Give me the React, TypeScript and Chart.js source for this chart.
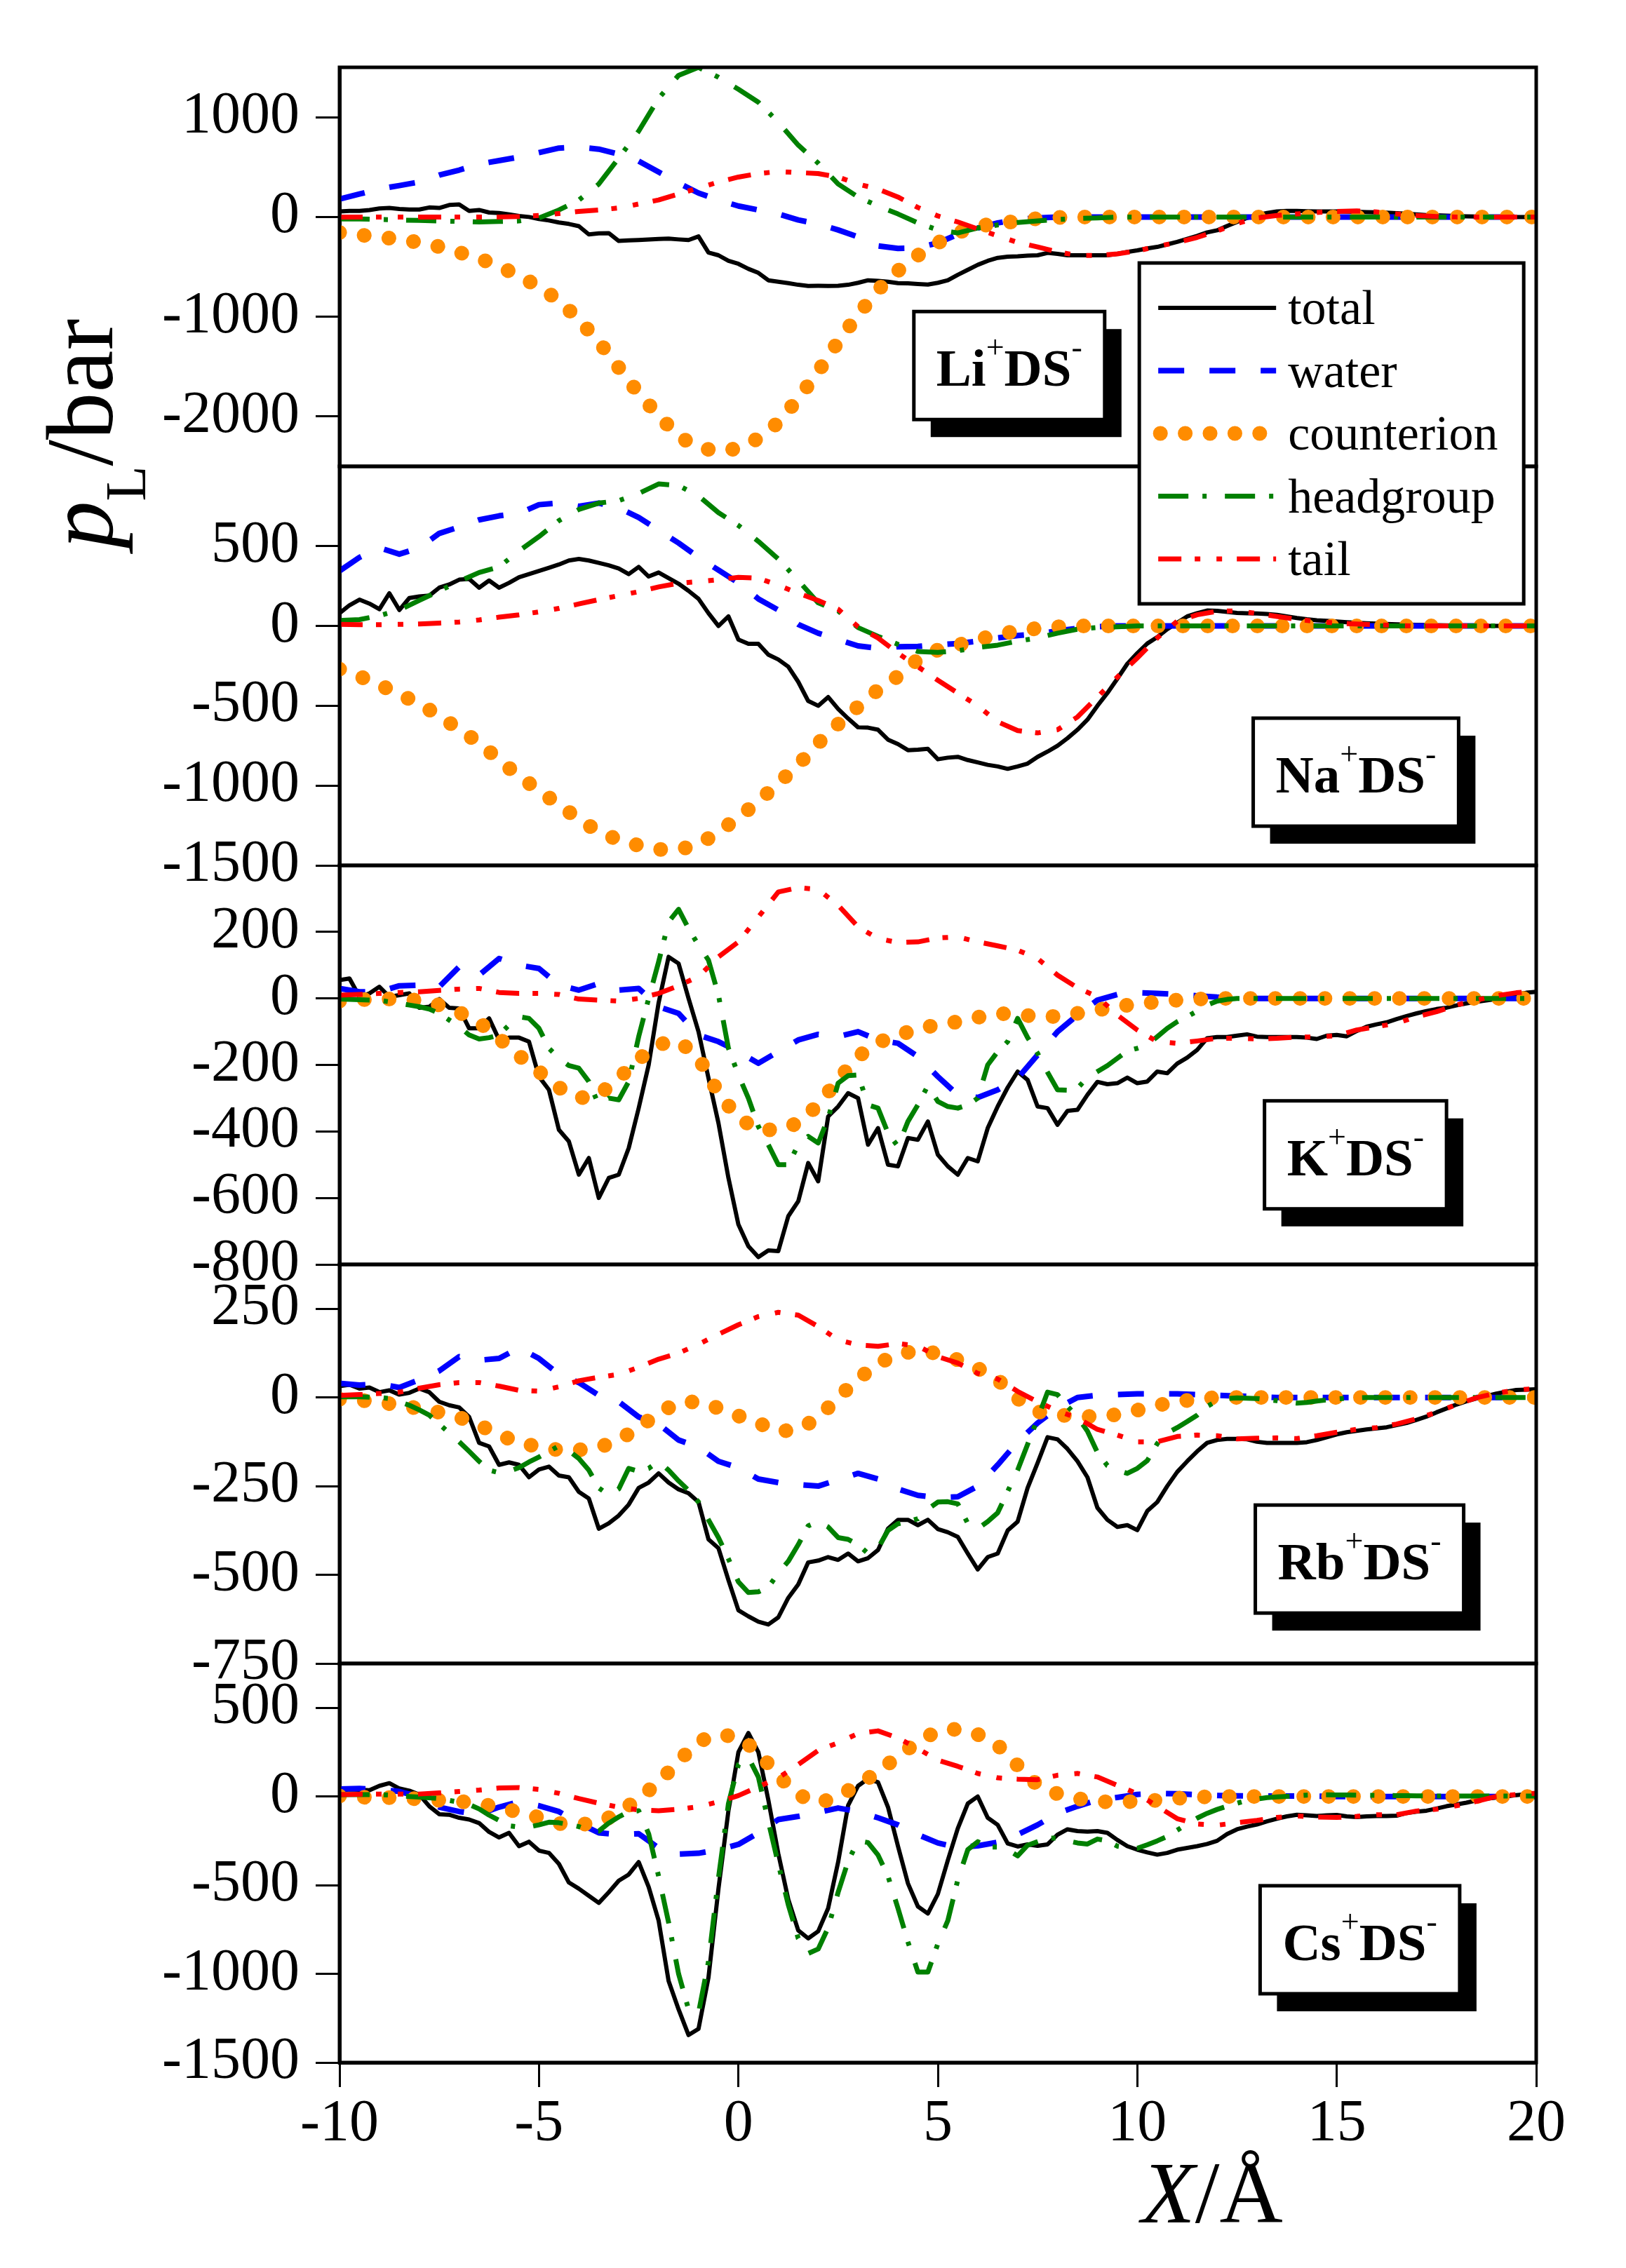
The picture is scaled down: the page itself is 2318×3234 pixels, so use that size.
import React, { useEffect, useRef } from 'react';
import { Chart, registerables } from 'chart.js';

Chart.register(...registerables);

// sampling grids along X (Å)
const X_COARSE = Array.from({ length: 61 }, (_, i) => -10 + i * 0.5);
const X_FINE = Array.from({ length: 121 }, (_, i) => -10 + i * 0.25);
const X_TICKS = [-10, -5, 0, 5, 10, 15, 20];

const SERIES = ['total', 'water', 'counterion', 'headgroup', 'tail'];

// ---- Li+DS- ----
const LI_TOTAL = [
  55, 60, 60, 70, 85, 90, 80, 75, 75, 95,
  90, 120, 125, 60, 70, 45, 40, 25, 10, 0,
  -20, -35, -55, -70, -92, -175, -165, -162, -240, -235,
  -231, -225, -220, -217, -225, -231, -195, -357, -384, -440,
  -470, -520, -560, -635, -650, -663, -680, -691, -690, -691,
  -690, -680, -660, -635, -640, -650, -663, -665, -672, -677,
  -660, -635, -580, -530, -480, -440, -410, -398, -395, -388,
  -384, -360, -370, -384, -384, -384, -384, -384, -370, -350,
  -335, -315, -300, -275, -250, -220, -190, -155, -134, -90,
  -50, -10, 19, 40, 55, 61, 60, 58, 56, 56,
  55, 53, 51, 49, 47, 43, 38, 32, 26, 19,
  16, 13, 10, 7, 5, 3, 0, 0, 0, 0,
  0,
];
const LI_WATER = [
  180, 230, 280, 315, 350, 420, 470, 530, 565, 600,
  645, 690, 700, 680, 630, 560, 450, 340, 240, 170,
  110, 70, 30, -30, -70, -130, -200, -290, -315, -310,
  -260, -175, -110, -60, -25, -10, 0, 0, 0, 0,
  0, 0, 0, 0, 0, 0, 0, 0, 0, 0,
  0, 0, 0, 0, 0, 0, 0, 0, 0, 0,
  0,
];
const LI_COUNTERION = [
  -155, -180, -200, -225, -255, -298, -355, -415, -495, -590,
  -700, -836, -1030, -1250, -1510, -1770, -1990, -2200, -2310, -2350,
  -2320, -2220, -2060, -1820, -1550, -1250, -980, -730, -540, -385,
  -260, -155, -95, -60, -45, -15, -5, 0, 0, 0,
  0, 0, 0, 0, 0, 0, 0, 0, 0, 0,
  0, 0, 0, 0, 0, 0, 0, 0, 0, 0,
  0,
];
const LI_HEADGROUP = [
  -20, -20, -25, -30, -35, -40, -45, -50, -45, -40,
  -10, 70, 170, 330, 590, 860, 1190, 1420, 1500, 1400,
  1280, 1150, 950, 720, 540, 330, 200, 110, 30, -60,
  -130, -160, -110, -80, -55, -40, -25, -15, -10, 0,
  0, 0, 0, 0, 0, 0, 0, 0, 0, 0,
  0, 0, 0, 0, 0, 0, 0, 0, 0, 0,
  0,
];
const LI_TAIL = [
  0, 0, 0, 0, 0, 0, 0, 0, 0, 5,
  15, 35, 55, 70, 90, 130, 170, 230, 290, 350,
  400, 435, 455, 445, 435, 400, 330, 280, 200, 95,
  10, -50, -120, -190, -255, -300, -350, -385, -385, -370,
  -340, -295, -255, -205, -140, -65, -10, 15, 30, 45,
  55, 60, 50, 30, 15, 5, 0, 0, 0, 0,
  0,
];
const LI_RANGE = [-2500, 1500];
const LI_TICKS = [-2000, -1000, 0, 1000];

// ---- Na+DS- ----
const NA_TOTAL = [
  80, 130, 165, 140, 105, 205, 100, 175, 185, 190,
  240, 260, 290, 295, 240, 285, 240, 270, 305, 325,
  345, 365, 385, 410, 420, 410, 395, 380, 360, 325,
  370, 310, 335, 300, 265, 220, 170, 80, 0, 60,
  -85, -112, -112, -180, -210, -255, -350, -470, -500, -445,
  -520, -580, -635, -637, -650, -712, -740, -778, -775, -770,
  -835, -825, -820, -840, -855, -870, -880, -895, -880, -862,
  -820, -787, -750, -703, -650, -587, -500, -420, -330, -237,
  -170, -110, -70, -20, 20, 60, 80, 97, 95, 88,
  82, 80, 78, 75, 70, 60, 50, 42, 36, 32,
  28, 24, 20, 17, 15, 12, 10, 8, 7, 6,
  5, 4, 3, 2, 1, 0, 0, 0, 0, 0,
  0,
];
const NA_WATER = [
  345, 430, 490, 450, 490, 580, 620, 665, 690, 705,
  760, 770, 750, 770, 740, 680, 600, 520, 430, 350,
  270, 170, 100, 10, -45, -85, -125, -140, -130, -128,
  -118, -110, -95, -75, -60, -50, -30, -15, -5, 0,
  0, 0, 0, 0, 0, 0, 0, 0, 0, 0,
  0, 0, 0, 0, 0, 0, 0, 0, 0, 0,
  0,
];
const NA_COUNTERION = [
  -270, -315, -370, -425, -490, -560, -650, -730, -840, -940,
  -1030, -1120, -1210, -1290, -1340, -1375, -1400, -1400, -1370, -1290,
  -1200, -1100, -985, -870, -735, -615, -505, -400, -315, -210,
  -150, -120, -85, -55, -30, -15, -5, 0, 0, 0,
  0, 0, 0, 0, 0, 0, 0, 0, 0, 0,
  0, 0, 0, 0, 0, 0, 0, 0, 0, 0,
  0,
];
const NA_HEADGROUP = [
  35, 40, 65, 100, 160, 220, 280, 335, 370, 470,
  560, 660, 730, 770, 785, 830, 890, 880, 815, 710,
  630, 530, 420, 285, 145, 95, -10, -65, -115, -160,
  -165, -155, -135, -120, -95, -75, -45, -20, -10, -5,
  0, 0, 0, 0, 0, 0, 0, 0, 0, 0,
  0, 0, 0, 0, 0, 0, 0, 0, 0, 0,
  0,
];
const NA_TAIL = [
  10, 8, 8, 10, 13, 18, 25, 38, 55, 70,
  88, 110, 138, 165, 190, 215, 245, 268, 278, 290,
  305, 300, 255, 205, 160, 105, -5, -75, -170, -255,
  -340, -420, -500, -600, -655, -670, -650, -570, -445, -320,
  -200, -75, 30, 70, 92, 95, 78, 60, 42, 28,
  18, 12, 7, 3, 0, 0, 0, 0, 0, 0,
  0,
];
const NA_RANGE = [-1500, 1000];
const NA_TICKS = [-1500, -1000, -500, 0, 500];

// ---- K+DS- ----
const K_TOTAL = [
  55, 60, 5, 15, 35, 5, 10, 15, -28, -25,
  -2, -28, -30, -90, -90, -60, -124, -118, -118, -130,
  -235, -275, -395, -430, -530, -480, -600, -540, -530, -450,
  -330, -200, -13, 125, 105, 0, -100, -240, -375, -540,
  -680, -745, -778, -758, -760, -655, -610, -495, -550, -355,
  -325, -285, -300, -440, -390, -500, -505, -420, -425, -370,
  -470, -505, -530, -480, -490, -390, -325, -268, -220, -245,
  -325, -330, -380, -338, -335, -290, -251, -258, -255, -238,
  -255, -250, -220, -225, -196, -178, -155, -120, -116, -116,
  -112, -108, -115, -116, -116, -116, -116, -118, -122, -112,
  -110, -114, -98, -85, -78, -72, -62, -53, -45, -38,
  -32, -28, -21, -15, -10, -6, -2, 5, 12, 17,
  20,
];
const K_WATER = [
  30, 20, 20, 38, 40, 35, 95, 70, 120, 100,
  90, 40, 25, 45, 25, 30, -25, -45, -110, -130,
  -160, -195, -160, -125, -108, -115, -100, -125, -135, -175,
  -235, -290, -298, -275, -240, -170, -100, -50, -5, 12,
  17, 15, 12, 8, 4, 2, 0, 0, 0, 0,
  0, 0, 0, 0, 0, 0, 0, 0, 0, 0,
  0,
];
const K_COUNTERION = [
  -8, -4, -2, -2, -6, -20, -42, -72, -120, -172,
  -220, -268, -300, -290, -240, -183, -138, -128, -178, -285,
  -360, -395, -395, -375, -320, -245, -175, -132, -112, -90,
  -80, -70, -57, -45, -48, -55, -54, -45, -35, -24,
  -17, -10, -5, -2, 0, 0, 0, 0, 0, 0,
  0, 0, 0, 0, 0, 0, 0, 0, 0, 0,
  0,
];
const K_HEADGROUP = [
  -2, -3, -4, -5, -6, -10, -15, -20, -25, -32,
  -45, -65, -85, -110, -122, -118, -110, -80, -55, -60,
  -90, -150, -180, -202, -210, -250, -320, -300, -305, -250,
  -115, 0, 110, 230, 268, 210, 160, 115, 10, -150,
  -230, -300, -385, -440, -500, -500, -440, -415, -435, -360,
  -255, -232, -230, -320, -330, -405, -445, -370, -320, -262,
  -310, -325, -330, -320, -300, -200, -160, -130, -60, -118,
  -165, -222, -275, -276, -270, -238, -220, -202, -180, -158,
  -150, -140, -115, -90, -70, -55, -38, -20, -8, -3,
  0, 0, 0, 0, 0, 0, 0, 0, 0, 0,
  0, 0, 0, 0, 0, 0, 0, 0, 0, 0,
  0, 0, 0, 0, 0, 0, 0, 0, 0, 0,
  0,
];
const K_TAIL = [
  10, 12, 15, 18, 20, 24, 28, 30, 18, 15,
  15, 12, -2, -5, -8, 0, 15, 38, 66, 125,
  170, 245, 320, 333, 328, 280, 215, 180, 168, 170,
  182, 185, 170, 158, 145, 120, 70, 32, 5, -50,
  -95, -130, -135, -128, -120, -120, -122, -120, -116, -116,
  -112, -95, -85, -75, -55, -40, -20, -5, 8, 17,
  22,
];
const K_RANGE = [-800, 400];
const K_TICKS = [-800, -600, -400, -200, 0, 200];

// ---- Rb+DS- ----
const RB_TOTAL = [
  32, 36, 25, 28, 15, 20, 8, 13, 25, 15,
  -12, -22, -28, -55, -128, -138, -190, -183, -190, -225,
  -203, -195, -220, -225, -266, -285, -370, -355, -333, -302,
  -255, -240, -214, -240, -259, -270, -295, -400, -425, -515,
  -600, -617, -632, -640, -620, -565, -527, -465, -460, -450,
  -458, -440, -462, -453, -430, -370, -345, -345, -360, -345,
  -371, -380, -393, -440, -485, -450, -440, -375, -350, -255,
  -185, -112, -118, -145, -180, -225, -311, -345, -365, -360,
  -374, -320, -295, -250, -210, -180, -152, -128, -120, -117,
  -117, -118, -125, -128, -128, -128, -128, -126, -120, -112,
  -104, -98, -94, -90, -87, -84, -78, -72, -63, -54,
  -42, -31, -20, -11, -3, 4, 11, 16, 21, 22,
  23,
];
const RB_WATER = [
  40, 35, 38, 28, 50, 75, 115, 105, 110, 140,
  110, 65, 42, 6, -12, -55, -75, -120, -140, -180,
  -198, -230, -240, -246, -250, -232, -214, -230, -258, -276,
  -282, -280, -250, -190, -125, -72, -30, 0, 6, 8,
  10, 10, 10, 8, 6, 4, 2, 0, 0, 0,
  0, 0, 0, 0, 0, 0, 0, 0, 0, 0,
  0,
];
const RB_COUNTERION = [
  -5, -8, -13, -22, -31, -42, -56, -78, -105, -128,
  -139, -148, -148, -141, -120, -85, -44, -14, -12, -30,
  -52, -72, -96, -90, -58, 0, 52, 96, 122, 132,
  124, 106, 82, 50, -3, -40, -50, -52, -55, -48,
  -36, -22, -12, -5, 0, 0, 0, 0, 0, 0,
  0, 0, 0, 0, 0, 0, 0, 0, 0, 0,
  0,
];
const RB_HEADGROUP = [
  2, 2, 2, 1, 0, -3, -12, -22, -35, -50,
  -75, -100, -125, -152, -180, -205, -212, -208, -198, -182,
  -168, -152, -137, -150, -172, -205, -255, -275, -258, -200,
  -208, -200, -180, -205, -235, -262, -295, -345, -395, -455,
  -520, -550, -548, -535, -495, -462, -415, -362, -350, -365,
  -395, -400, -415, -440, -425, -375, -356, -350, -342, -315,
  -295, -294, -300, -355, -370, -350, -325, -265, -205, -132,
  -60, 15, 8, -25, -55, -95, -155, -192, -205, -214,
  -200, -178, -130, -100, -85, -68, -50, -25, -10, -3,
  -1, -2, -3, -6, -9, -13, -16, -14, -10, -7,
  -4, -2, -1, 0, 0, 0, 0, 0, 0, 0,
  0, 0, 0, 0, 0, 0, 0, 0, 0, 0,
  0,
];
const RB_TAIL = [
  6, 8, 11, 15, 26, 36, 42, 42, 32, 20,
  18, 30, 47, 57, 65, 85, 108, 125, 150, 178,
  205, 228, 240, 232, 200, 162, 148, 144, 152, 145,
  115, 97, 68, 52, 17, -12, -38, -58, -90, -106,
  -125, -125, -110, -106, -108, -117, -115, -114, -116, -108,
  -98, -90, -85, -75, -60, -42, -20, -1, 12, 21,
  25,
];
const RB_RANGE = [-750, 375];
const RB_TICKS = [-750, -500, -250, 0, 250];

// ---- Cs+DS- ----
const CS_TOTAL = [
  33, 40, 38, 35, 60, 75, 45, 33, 10, -55,
  -100, -103, -120, -130, -150, -200, -231, -205, -280, -255,
  -305, -318, -380, -485, -520, -560, -600, -540, -475, -440,
  -370, -510, -700, -1040, -1200, -1345, -1310, -1020, -520, -80,
  250, 358, 250, -20, -322, -580, -755, -800, -760, -630,
  -370, -50, 60, 100, 80, -60, -280, -490, -620, -660,
  -550, -360, -180, -40, 0, -120, -160, -265, -282, -270,
  -278, -270, -215, -185, -195, -198, -195, -205, -245, -280,
  -300, -315, -328, -318, -300, -290, -280, -268, -250, -212,
  -185, -170, -158, -140, -125, -112, -103, -106, -110, -106,
  -104, -112, -116, -112, -110, -110, -108, -93, -85, -80,
  -68, -55, -45, -35, -22, -12, -6, 0, 8, 13,
  18,
];
const CS_WATER = [
  42, 45, 40, 28, 0, -60, -85, -100, -60, -30,
  -52, -85, -150, -205, -215, -210, -290, -325, -320, -300,
  -270, -205, -130, -112, -90, -65, -85, -120, -160, -215,
  -262, -288, -278, -258, -215, -160, -95, -55, -20, -5,
  12, 18, 15, 10, 6, 4, 3, 3, 3, 2,
  0, 0, 0, 0, 0, 0, 0, 0, 0, 0,
  0,
];
const CS_COUNTERION = [
  3, -4, -5, -8, -14, -21, -27, -40, -62, -88,
  -118, -152, -160, -145, -95, -10, 78, 200, 310, 350,
  335, 250, 115, 10, -38, 0, 65, 140, 225, 310,
  370, 380, 350, 290, 175, 62, 15, -12, -28, -32,
  -27, -21, -10, -3, 0, 0, 0, 0, 0, 0,
  0, 0, 0, 0, 0, 0, 0, 0, 0, 0,
  0,
];
const CS_HEADGROUP = [
  10, 11, 11, 11, 11, 8, 4, 0, -3, -7,
  -12, -22, -32, -45, -70, -105, -135, -165, -172, -172,
  -160, -145, -148, -158, -170, -190, -195, -150, -115, -85,
  -80, -210, -450, -710, -1000, -1200, -1220, -930, -460, -40,
  180, 220, 110, -141, -380, -610, -800, -885, -860, -740,
  -540, -365, -250, -260, -330, -450, -630, -820, -990, -990,
  -830, -700, -470, -300, -255, -285, -285, -300, -335, -275,
  -255, -235, -235, -250, -262, -268, -240, -250, -280, -288,
  -292, -272, -250, -225, -190, -155, -122, -95, -73, -55,
  -38, -22, -14, -6, -2, 1, 4, 8, 10, 10,
  9, 9, 8, 7, 6, 6, 5, 5, 4, 4,
  3, 3, 3, 3, 3, 3, 3, 3, 3, 3,
  3,
];
const CS_TAIL = [
  11, 13, 14, 14, 14, 20, 28, 36, 48, 50,
  40, 18, -12, -38, -60, -76, -80, -72, -58, -30,
  5, 55, 105, 180, 260, 303, 355, 370, 330, 270,
  205, 170, 130, 105, 98, 95, 120, 130, 110, 63,
  15, -55, -125, -155, -162, -148, -135, -118, -110, -116,
  -118, -112, -103, -103, -82, -72, -52, -27, 0, 11,
  18,
];
const CS_RANGE = [-1500, 750];
const CS_TICKS = [-1500, -1000, -500, 0, 500];

const PANELS = [
  { ion: 'Li', range: LI_RANGE, ticks: LI_TICKS, series: [LI_TOTAL, LI_WATER, LI_COUNTERION, LI_HEADGROUP, LI_TAIL] },
  { ion: 'Na', range: NA_RANGE, ticks: NA_TICKS, series: [NA_TOTAL, NA_WATER, NA_COUNTERION, NA_HEADGROUP, NA_TAIL] },
  { ion: 'K', range: K_RANGE, ticks: K_TICKS, series: [K_TOTAL, K_WATER, K_COUNTERION, K_HEADGROUP, K_TAIL] },
  { ion: 'Rb', range: RB_RANGE, ticks: RB_TICKS, series: [RB_TOTAL, RB_WATER, RB_COUNTERION, RB_HEADGROUP, RB_TAIL] },
  { ion: 'Cs', range: CS_RANGE, ticks: CS_TICKS, series: [CS_TOTAL, CS_WATER, CS_COUNTERION, CS_HEADGROUP, CS_TAIL] },
];

// ---- styles / layout ----
const W = 2318;
const H = 3234;
const PLOT_LEFT = 484;
const PLOT_RIGHT = 2190;
const PLOT_TOP = 96;
const PLOT_BOTTOM = 2941;
const SERIF = '"Liberation Serif", "DejaVu Serif", serif';

const LINE_STYLES: Record<string, { color: string; width: number; dash: number[]; cap: CanvasLineCap }> = {
  total: { color: '#000000', width: 6, dash: [], cap: 'butt' },
  water: { color: '#0000ff', width: 8, dash: [37, 36], cap: 'butt' },
  counterion: { color: '#ff8c00', width: 21, dash: [0.1, 35.3], cap: 'round' },
  headgroup: { color: '#008000', width: 7, dash: [43, 20, 6, 26], cap: 'butt' },
  tail: { color: '#ff0000', width: 7, dash: [33, 19, 8, 23, 8, 21], cap: 'butt' },
};

// label box: x centre in data units, top as fraction of the panel height
const LABEL_POS = [
  { x: 6.79, f: 0.612 },
  { x: 15.48, f: 0.631 },
  { x: 15.47, f: 0.59 },
  { x: 15.57, f: 0.603 },
  { x: 15.58, f: 0.557 },
];

type Run = { text: string; font: string; dy?: number };

function measureRuns(ctx: CanvasRenderingContext2D, runs: Run[]) {
  let w = 0;
  runs.forEach((r) => {
    ctx.font = r.font;
    w += ctx.measureText(r.text).width;
  });
  return w;
}

function drawRuns(ctx: CanvasRenderingContext2D, runs: Run[], x: number, y: number) {
  let cx = x;
  runs.forEach((r) => {
    ctx.font = r.font;
    ctx.fillText(r.text, cx, y + (r.dy || 0));
    cx += ctx.measureText(r.text).width;
  });
}

const labelRuns = (ion: string): Run[] => [
  { text: ion, font: `bold 75px ${SERIF}` },
  { text: '+', font: `46px ${SERIF}`, dy: -40 },
  { text: 'DS', font: `bold 75px ${SERIF}` },
  { text: '-', font: `46px ${SERIF}`, dy: -40 },
];

const overlayPlugin = {
  id: 'panelOverlay',
  afterDraw(chart: any) {
    const { ctx, chartArea: area, scales } = chart;
    const xs = scales.x;
    ctx.save();
    ctx.setLineDash([]);
    ctx.strokeStyle = '#000';
    ctx.lineWidth = 5;
    ctx.textAlign = 'left';
    ctx.textBaseline = 'alphabetic';

    // panel frames
    PANELS.forEach((p) => {
      const s = scales['y' + p.ion];
      ctx.strokeRect(area.left, s.top, area.right - area.left, s.bottom - s.top);
    });

    // ion labels with drop shadow
    PANELS.forEach((p, i) => {
      const s = scales['y' + p.ion];
      const runs = labelRuns(p.ion);
      const tw = measureRuns(ctx, runs);
      const bw = tw + 64;
      const bh = 154;
      const cx = xs.getPixelForValue(LABEL_POS[i].x);
      const top = s.top + (s.bottom - s.top) * LABEL_POS[i].f;
      const left = cx - bw / 2;
      ctx.fillStyle = '#000';
      ctx.fillRect(left + 24, top + 25, bw, bh);
      ctx.fillStyle = '#fff';
      ctx.fillRect(left, top, bw, bh);
      ctx.lineWidth = 5;
      ctx.strokeRect(left, top, bw, bh);
      ctx.fillStyle = '#000';
      drawRuns(ctx, runs, cx - tw / 2, top + 106);
    });

    // legend
    const lgLeft = xs.getPixelForValue(10.05);
    const lgTop = area.top + 279;
    const lgW = 548;
    const lgH = 486;
    ctx.fillStyle = '#fff';
    ctx.fillRect(lgLeft, lgTop, lgW, lgH);
    ctx.lineWidth = 5;
    ctx.strokeRect(lgLeft, lgTop, lgW, lgH);
    SERIES.forEach((name, i) => {
      const st = LINE_STYLES[name];
      const y = lgTop + 64 + i * 89.5;
      const x0 = name === 'counterion' ? lgLeft + 30 : lgLeft + 27;
      const x1 = name === 'counterion' ? lgLeft + 172 : lgLeft + 195;
      ctx.beginPath();
      ctx.setLineDash(st.dash);
      ctx.lineCap = st.cap;
      ctx.lineWidth = st.width;
      ctx.strokeStyle = st.color;
      ctx.moveTo(x0, y);
      ctx.lineTo(x1, y);
      ctx.stroke();
      ctx.setLineDash([]);
      ctx.lineCap = 'butt';
      ctx.fillStyle = '#000';
      ctx.font = `70px ${SERIF}`;
      ctx.fillText(name, lgLeft + 212, y + 23);
    });

    // y title: p_L / bar
    ctx.save();
    ctx.translate(160, 782);
    ctx.rotate(-Math.PI / 2);
    ctx.fillStyle = '#000';
    drawRuns(ctx, [
      { text: 'p', font: `italic 135px ${SERIF}` },
      { text: 'L', font: `82px ${SERIF}`, dy: 47 },
      { text: '/bar', font: `135px ${SERIF}` },
    ], 0, 0);
    ctx.restore();

    // x title: X / Å
    const xt: Run[] = [
      { text: 'X', font: `italic 125px ${SERIF}` },
      { text: '/Å', font: `125px ${SERIF}` },
    ];
    const xtw = measureRuns(ctx, xt);
    ctx.fillStyle = '#000';
    drawRuns(ctx, xt, 1728 - xtw / 2, 3169);

    ctx.restore();
  },
};

const App: React.FC = () => {
  const canvasRef = useRef<HTMLCanvasElement>(null);
  const chartRef = useRef<Chart | null>(null);

  useEffect(() => {
    if (!canvasRef.current) return;
    if (chartRef.current) chartRef.current.destroy();

    const datasets: any[] = [];
    PANELS.forEach((p) => {
      p.series.forEach((vals, si) => {
        const grid = vals.length > 80 ? X_FINE : X_COARSE;
        const st = LINE_STYLES[SERIES[si]];
        datasets.push({
          label: `${p.ion} ${SERIES[si]}`,
          data: vals.map((v, i) => ({ x: grid[i], y: v })),
          xAxisID: 'x',
          yAxisID: 'y' + p.ion,
          borderColor: st.color,
          borderWidth: st.width,
          borderDash: st.dash,
          borderCapStyle: st.cap,
          borderJoinStyle: 'round',
          pointRadius: 0,
          pointHoverRadius: 0,
          fill: false,
          tension: 0,
          order: 5 - si,
        });
      });
    });

    const tickFont = { family: SERIF, size: 84 };
    const scales: any = {
      x: {
        type: 'linear',
        position: 'bottom',
        min: -10,
        max: 20,
        afterBuildTicks: (axis: any) => {
          axis.ticks = X_TICKS.map((v) => ({ value: v }));
        },
        afterFit: (axis: any) => {
          axis.height = H - PLOT_BOTTOM;
        },
        grid: { drawOnChartArea: false, tickLength: 35, lineWidth: 3, color: '#000', tickColor: '#000' },
        border: { display: true, color: '#000', width: 5 },
        ticks: { color: '#000', padding: 4, font: tickFont, maxRotation: 0, autoSkip: false, callback: (v: any) => String(v) },
      },
    };
    // later-defined left axes are stacked higher, so add bottom panel first
    [...PANELS].reverse().forEach((p) => {
      scales['y' + p.ion] = {
        type: 'linear',
        position: 'left',
        stack: 'panels',
        stackWeight: 1,
        min: p.range[0],
        max: p.range[1],
        afterBuildTicks: (axis: any) => {
          axis.ticks = p.ticks.map((v) => ({ value: v }));
        },
        afterFit: (axis: any) => {
          axis.width = PLOT_LEFT;
        },
        grid: { drawOnChartArea: false, tickLength: 34, lineWidth: 3, color: '#000', tickColor: '#000' },
        border: { display: true, color: '#000', width: 5 },
        ticks: { color: '#000', padding: 23, font: tickFont, autoSkip: false, callback: (v: any) => String(v) },
      };
    });

    chartRef.current = new Chart(canvasRef.current, {
      type: 'line',
      data: { datasets },
      options: {
        responsive: false,
        animation: false,
        events: [],
        layout: { padding: { left: 0, right: W - PLOT_RIGHT, top: PLOT_TOP, bottom: 0 } },
        scales,
        plugins: {
          legend: { display: false },
          tooltip: { enabled: false },
        },
      },
      plugins: [overlayPlugin],
    } as any);

    return () => {
      if (chartRef.current) {
        chartRef.current.destroy();
        chartRef.current = null;
      }
    };
  }, []);

  return (
    <div style={{ position: 'absolute', left: 0, top: 0, width: W, height: H, background: '#fff' }}>
      <canvas ref={canvasRef} width={W} height={H} style={{ display: 'block', width: W, height: H }} />
    </div>
  );
};

export default App;
